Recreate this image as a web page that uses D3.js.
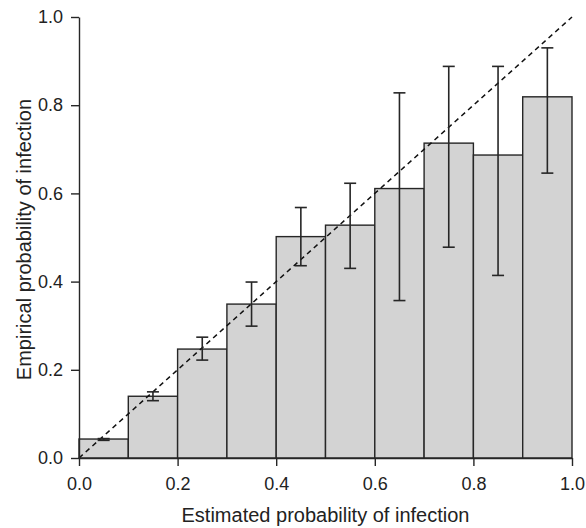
<!DOCTYPE html>
<html>
<head>
<meta charset="utf-8">
<script src="https://cdn.jsdelivr.net/npm/d3@7"></script>
<style>
  body { margin: 0; background: #fff; }
  svg { display: block; font-family: "Liberation Sans", Arial, sans-serif; }
</style>
</head>
<body>
<div id="chart"></div>
<script>
// bins of estimated probability (lower edges, width 0.1)
const binStarts = [0.0, 0.1, 0.2, 0.3, 0.4, 0.5, 0.6, 0.7, 0.8, 0.9];
const empirical = [0.043, 0.140, 0.247, 0.349, 0.502, 0.528, 0.611, 0.714, 0.687, 0.819];
const errLow    = [0.040, 0.130, 0.222, 0.299, 0.436, 0.430, 0.357, 0.478, 0.414, 0.646];
const errHigh   = [0.044, 0.150, 0.274, 0.399, 0.568, 0.623, 0.828, 0.888, 0.888, 0.930];
const tickValues = [0, 0.2, 0.4, 0.6, 0.8, 1.0];

const width = 586, height = 528;
const marginLeft = 79, marginRight = 14, marginTop = 17, marginBottom = 70;

const data = binStarts.map((b, i) => ({x0: b, x1: b + 0.1, y: empirical[i], lo: errLow[i], hi: errHigh[i]}));

const x = d3.scaleLinear().domain([0, 1]).range([marginLeft, width - marginRight]);
const y = d3.scaleLinear().domain([0, 1]).range([height - marginBottom, marginTop]);

const svg = d3.select("#chart").append("svg")
    .attr("width", width)
    .attr("height", height)
    .attr("viewBox", [0, 0, width, height]);

// bars
svg.append("g")
    .attr("fill", "#d3d3d3")
    .attr("stroke", "#262626")
    .attr("stroke-width", 1.4)
    .selectAll()
    .data(data)
    .join("rect")
    .attr("x", d => x(d.x0))
    .attr("width", d => x(d.x1) - x(d.x0))
    .attr("y", d => y(d.y))
    .attr("height", d => y(0) - y(d.y));

// diagonal reference line
svg.append("line")
    .attr("x1", x(0)).attr("y1", y(0))
    .attr("x2", x(1)).attr("y2", y(1))
    .attr("stroke", "#111")
    .attr("stroke-width", 1.5)
    .attr("stroke-dasharray", "5,4");

// error bars
const eb = svg.append("g")
    .attr("stroke", "#262626")
    .attr("stroke-width", 1.6)
    .selectAll()
    .data(data)
    .join("g");
const cx = d => x((d.x0 + d.x1) / 2);
eb.append("line")
    .attr("x1", cx).attr("x2", cx)
    .attr("y1", d => y(d.lo)).attr("y2", d => y(d.hi));
eb.append("line")
    .attr("x1", d => cx(d) - 6).attr("x2", d => cx(d) + 6)
    .attr("y1", d => y(d.lo)).attr("y2", d => y(d.lo));
eb.append("line")
    .attr("x1", d => cx(d) - 6).attr("x2", d => cx(d) + 6)
    .attr("y1", d => y(d.hi)).attr("y2", d => y(d.hi));

// axes
const styleAxis = g => {
    g.attr("font-size", 18).attr("font-family", "Liberation Sans, Arial, sans-serif");
    g.select(".domain").attr("stroke", "#262626").attr("stroke-width", 1.4);
    g.selectAll(".tick line").attr("stroke", "#262626").attr("stroke-width", 1.4);
    g.selectAll(".tick text").attr("fill", "#222");
};

svg.append("g")
    .attr("transform", `translate(0,${y(0)})`)
    .call(d3.axisBottom(x).tickValues(tickValues).tickFormat(d3.format(".1f")).tickSize(8).tickSizeOuter(0).tickPadding(11))
    .call(styleAxis);

svg.append("g")
    .attr("transform", `translate(${x(0)},0)`)
    .call(d3.axisLeft(y).tickValues(tickValues).tickFormat(d3.format(".1f")).tickSize(8).tickSizeOuter(0).tickPadding(8))
    .call(styleAxis);

// axis titles
svg.append("text")
    .attr("x", (x(0) + x(1)) / 2)
    .attr("y", 522)
    .attr("text-anchor", "middle")
    .attr("font-size", 20)
    .attr("fill", "#222")
    .text("Estimated probability of infection");

svg.append("text")
    .attr("transform", `translate(31,${(y(0) + y(1)) / 2 + 2}) rotate(-90)`)
    .attr("text-anchor", "middle")
    .attr("font-size", 20)
    .attr("fill", "#222")
    .text("Empirical probability of infection");
</script>
</body>
</html>
